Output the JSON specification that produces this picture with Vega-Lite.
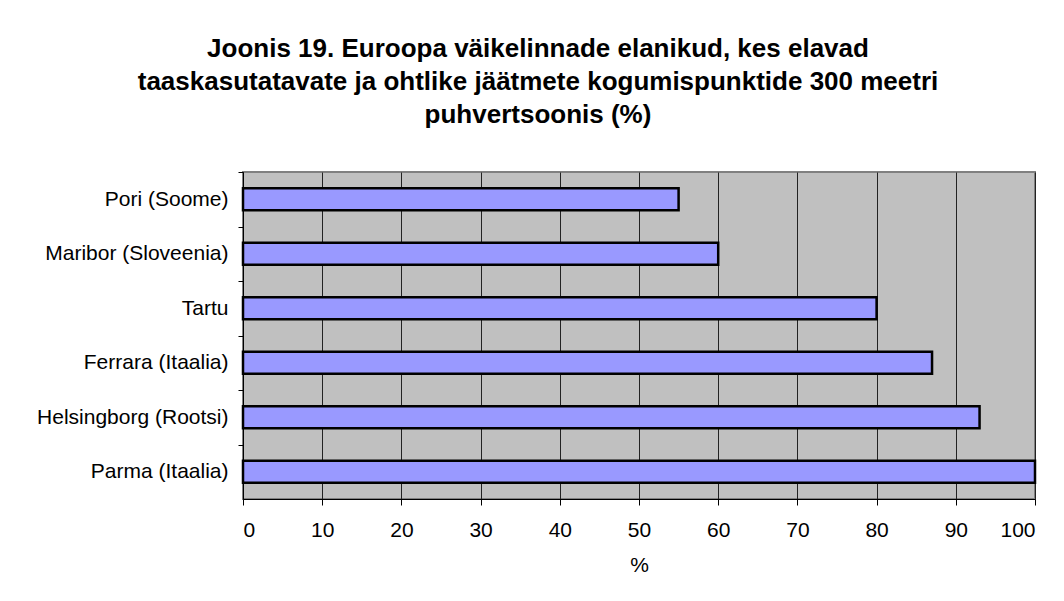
{
  "$schema": "https://vega.github.io/schema/vega-lite/v6.json",
  "width": 792,
  "height": 327,
  "autosize": "none",
  "padding": {"left": 243, "top": 172, "right": 29, "bottom": 102},
  "background": "white",
  "title": {
    "text": ["Joonis 19. Euroopa väikelinnade elanikud, kes elavad", "taaskasutatavate ja ohtlike jäätmete kogumispunktide 300 meetri", "puhvertsoonis (%)"],
    "font": "Liberation Sans",
    "fontSize": 26,
    "fontWeight": "bold",
    "lineHeight": 33,
    "color": "black",
    "anchor": "middle",
    "frame": "group",
    "dx": -101,
    "offset": 44
  },
  "config": {
    "font": "Liberation Sans",
    "view": {"fill": "#C0C0C0", "stroke": "#808080", "strokeWidth": 2}
  },
  "data": {
    "values": [
      {"city": "Pori (Soome)", "value": 55},
      {"city": "Maribor (Sloveenia)", "value": 60},
      {"city": "Tartu", "value": 80},
      {"city": "Ferrara (Itaalia)", "value": 87},
      {"city": "Helsingborg (Rootsi)", "value": 93},
      {"city": "Parma (Itaalia)", "value": 100}
    ]
  },
  "mark": {"type": "bar", "fill": "#9999FF", "stroke": "black", "strokeWidth": 2.5},
  "encoding": {
    "y": {
      "field": "city",
      "type": "nominal",
      "sort": null,
      "scale": {"paddingInner": 0.6, "paddingOuter": 0.3},
      "axis": {
        "title": null,
        "grid": false,
        "tickOffset": -27.25,
        "labelOffset": 27.25,
        "domainColor": "black",
        "domainWidth": 1,
        "tickColor": "black",
        "tickSize": 5,
        "labelFontSize": 21,
        "labelColor": "black",
        "labelPadding": 10,
        "labelLimit": 400
      }
    },
    "x": {
      "field": "value",
      "type": "quantitative",
      "scale": {"domain": [0, 100], "nice": false},
      "axis": {
        "title": "%",
        "values": [0, 10, 20, 30, 40, 50, 60, 70, 80, 90, 100],
        "grid": true,
        "gridColor": "#222222",
        "gridOpacity": 1,
        "gridWidth": 1,
        "domainColor": "black",
        "domainWidth": 1,
        "tickColor": "black",
        "tickSize": 6,
        "labelFontSize": 21,
        "labelColor": "black",
        "labelPadding": 14,
        "titleFontSize": 21,
        "titleFontWeight": "normal",
        "titleColor": "black",
        "titlePadding": 14
      }
    }
  }
}
